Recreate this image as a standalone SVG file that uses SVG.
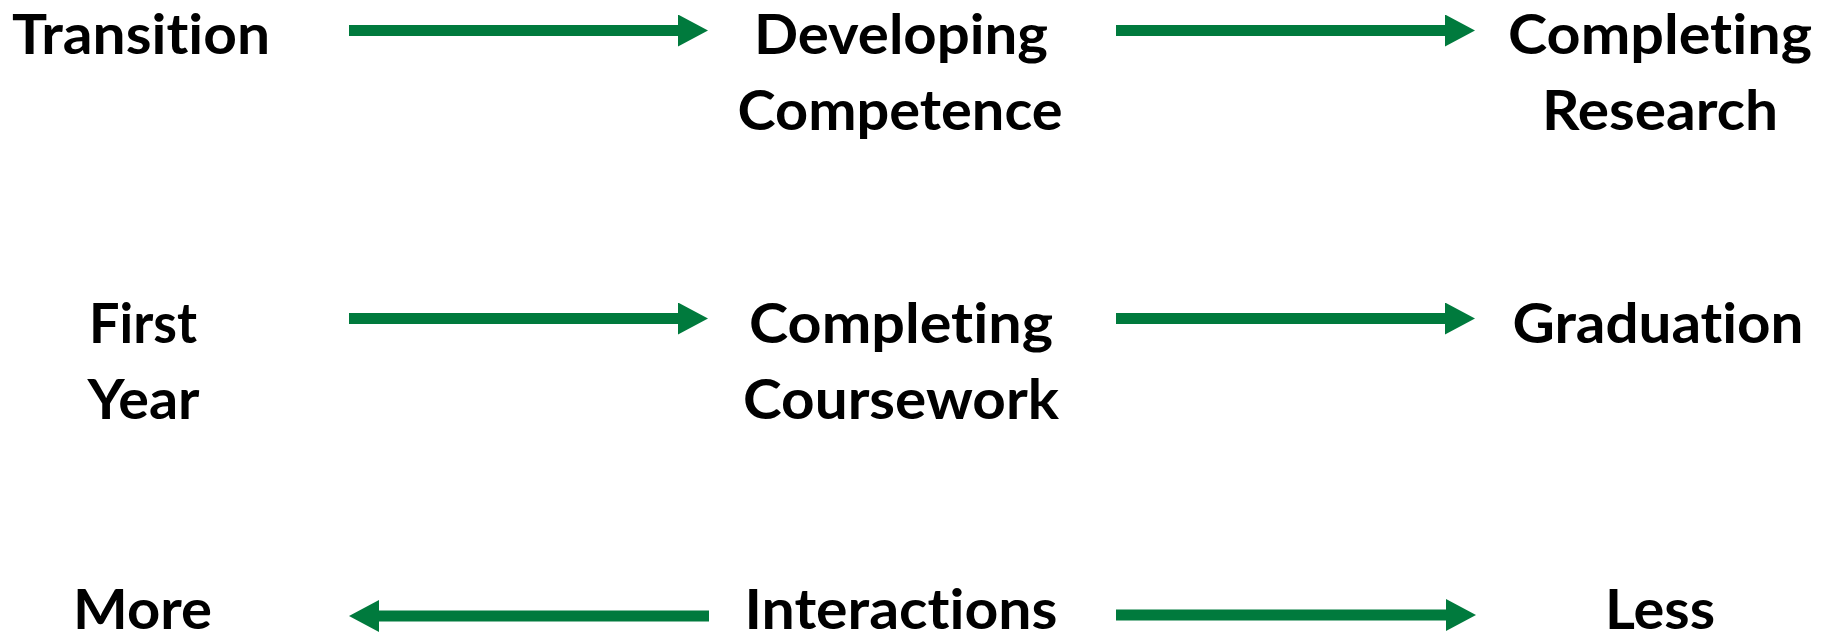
<svg xmlns="http://www.w3.org/2000/svg" width="1829" height="636" viewBox="0 0 1829 636">
  <style>
    .lbl { font-family: Lato, "Open Sans", "Liberation Sans", sans-serif; font-weight: 700; font-size: 56px; fill: #000; text-anchor: middle; font-variant-ligatures: none; font-feature-settings: "liga" 0, "clig" 0; }
    .conn { stroke: #007A3D; stroke-width: 11; fill: none; marker-end: url(#head); }
  </style>
  <defs>
    <marker id="head" markerUnits="userSpaceOnUse" viewBox="0 0 30 32" markerWidth="30" markerHeight="32" refX="0" refY="16" orient="auto">
      <path d="M0,0 L30,16 L0,32 Z" fill="#007A3D"/>
    </marker>
  </defs>
  <rect width="1829" height="636" fill="#fff"/>
  <g id="connectors">
    <line class="conn" x1="349" y1="30.5" x2="678" y2="30.5"/>
    <line class="conn" x1="1116" y1="30.5" x2="1445" y2="30.5"/>
    <line class="conn" x1="349" y1="318.5" x2="678" y2="318.5"/>
    <line class="conn" x1="1116" y1="318.5" x2="1445" y2="318.5"/>
    <line class="conn" x1="709" y1="616" x2="379" y2="616"/>
    <line class="conn" x1="1116" y1="615" x2="1446" y2="615"/>
  </g>
  <g id="transition"><text class="lbl" x="141" y="54" textLength="258" lengthAdjust="spacingAndGlyphs">Transition</text></g>
  <g id="developing-competence">
    <text class="lbl" x="901" y="54" textLength="294" lengthAdjust="spacingAndGlyphs">Developing</text>
    <text class="lbl" x="900" y="130" textLength="325" lengthAdjust="spacingAndGlyphs">Competence</text>
  </g>
  <g id="completing-research">
    <text class="lbl" x="1660" y="54" textLength="304" lengthAdjust="spacingAndGlyphs">Completing</text>
    <text class="lbl" x="1660" y="130" textLength="236" lengthAdjust="spacingAndGlyphs">Research</text>
  </g>
  <g id="first-year">
    <text class="lbl" x="143" y="343" textLength="108" lengthAdjust="spacingAndGlyphs">First</text>
    <text class="lbl" x="143.5" y="419" textLength="112" lengthAdjust="spacingAndGlyphs">Year</text>
  </g>
  <g id="completing-coursework">
    <text class="lbl" x="901" y="343" textLength="304" lengthAdjust="spacingAndGlyphs">Completing</text>
    <text class="lbl" x="901" y="419" textLength="316" lengthAdjust="spacingAndGlyphs">Coursework</text>
  </g>
  <g id="graduation"><text class="lbl" x="1658" y="343" textLength="291" lengthAdjust="spacingAndGlyphs">Graduation</text></g>
  <g id="more"><text class="lbl" x="142.5" y="629" textLength="139" lengthAdjust="spacingAndGlyphs">More</text></g>
  <g id="interactions"><text class="lbl" x="901" y="629" textLength="313" lengthAdjust="spacingAndGlyphs">Interactions</text></g>
  <g id="less"><text class="lbl" x="1660" y="629" textLength="110" lengthAdjust="spacingAndGlyphs">Less</text></g>
</svg>
